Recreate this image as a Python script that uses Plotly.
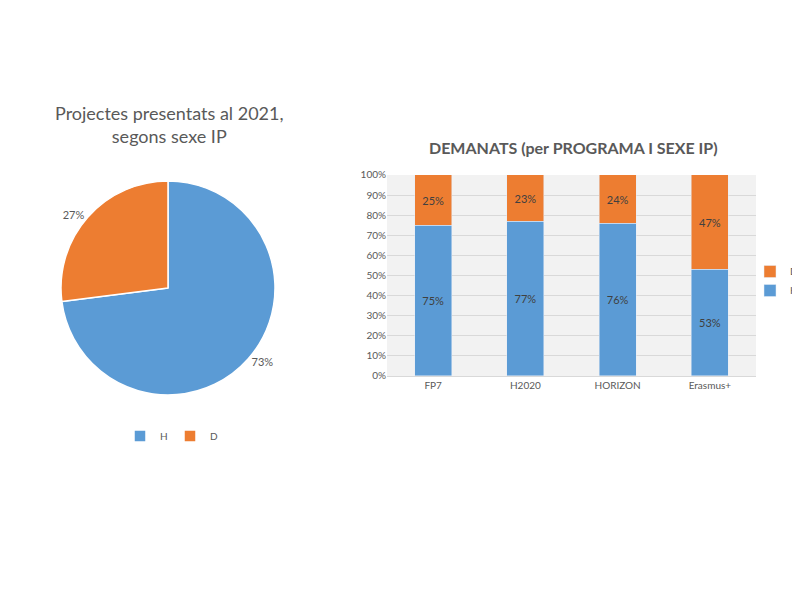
import plotly.graph_objects as go

# dades del pastís
pie_labels = ["H", "D"]
pie_values = [73, 27]

# dades de les barres
programes = ["FP7", "H2020", "HORIZON", "Erasmus+"]
pct_h = [75, 77, 76, 53]
pct_d = [25, 23, 24, 47]

blau = "#5B9BD5"
taronja = "#ED7D31"
gris = "#595959"
font_nom = "Lato"

fig = go.Figure()

fig.add_trace(go.Pie(
    labels=pie_labels,
    values=pie_values,
    sort=False,
    direction="clockwise",
    rotation=0,
    marker=dict(colors=[blau, taronja], line=dict(color="white", width=1.5)),
    textinfo="percent",
    textposition="outside",
    texttemplate="%{percent:.0%}",
    textfont=dict(size=11, color=gris),
    domain=dict(x=[0.06625, 0.33375], y=[0.355, 0.7117]),
    legend="legend",
    hoverinfo="label+percent",
))

fig.add_trace(go.Bar(
    x=programes, y=pct_h, name="H",
    marker_color=blau,
    text=[f"{v}%" for v in pct_h],
    textposition="inside", insidetextanchor="middle",
    textfont=dict(size=11, color="#404040"),
    legend="legend2",
))
fig.add_trace(go.Bar(
    x=programes, y=pct_d, name="D",
    marker_color=taronja,
    text=[f"{v}%" for v in pct_d],
    textposition="inside", insidetextanchor="middle",
    textfont=dict(size=11, color="#404040"),
    legend="legend2",
))

fig.update_layout(
    width=800, height=600,
    margin=dict(l=0, r=0, t=0, b=0, autoexpand=False),
    paper_bgcolor="white",
    plot_bgcolor="#F2F2F2",
    font=dict(family=font_nom, color=gris),
    barmode="stack",
    bargap=0.6,
    xaxis=dict(domain=[0.47375, 0.935], showgrid=False,
               showline=True, linecolor="#D9D9D9",
               tickfont=dict(size=10, color=gris)),
    yaxis=dict(domain=[0.3867, 0.7217], range=[0, 100], dtick=10,
               ticksuffix="%", gridcolor="#D9D9D9", zeroline=False,
               tickfont=dict(size=10, color=gris)),
    legend=dict(orientation="h", x=0.2025, xanchor="center", y=0.2867, yanchor="middle",
                font=dict(size=10, color=gris), entrywidth=5, itemwidth=30,
                bgcolor="rgba(0,0,0,0)"),
    legend2=dict(orientation="v", x=0.9275, xanchor="left", y=0.545, yanchor="middle",
                 traceorder="reversed", font=dict(size=10, color=gris), itemwidth=30,
                 tracegroupgap=0, bgcolor="rgba(0,0,0,0)"),
    annotations=[
        dict(text="Projectes presentats al 2021,<br>segons sexe IP", x=0.20125, y=0.805,
             xref="paper", yref="paper", xanchor="center", yanchor="middle",
             showarrow=False, font=dict(size=18, color=gris)),
        dict(text="<b>DEMANATS (per PROGRAMA I SEXE IP)</b>", x=0.70625, y=0.7683,
             xref="paper", yref="paper", xanchor="center", yanchor="middle",
             showarrow=False, font=dict(size=16, color=gris)),
    ],
)

fig.write_html("out.html")
